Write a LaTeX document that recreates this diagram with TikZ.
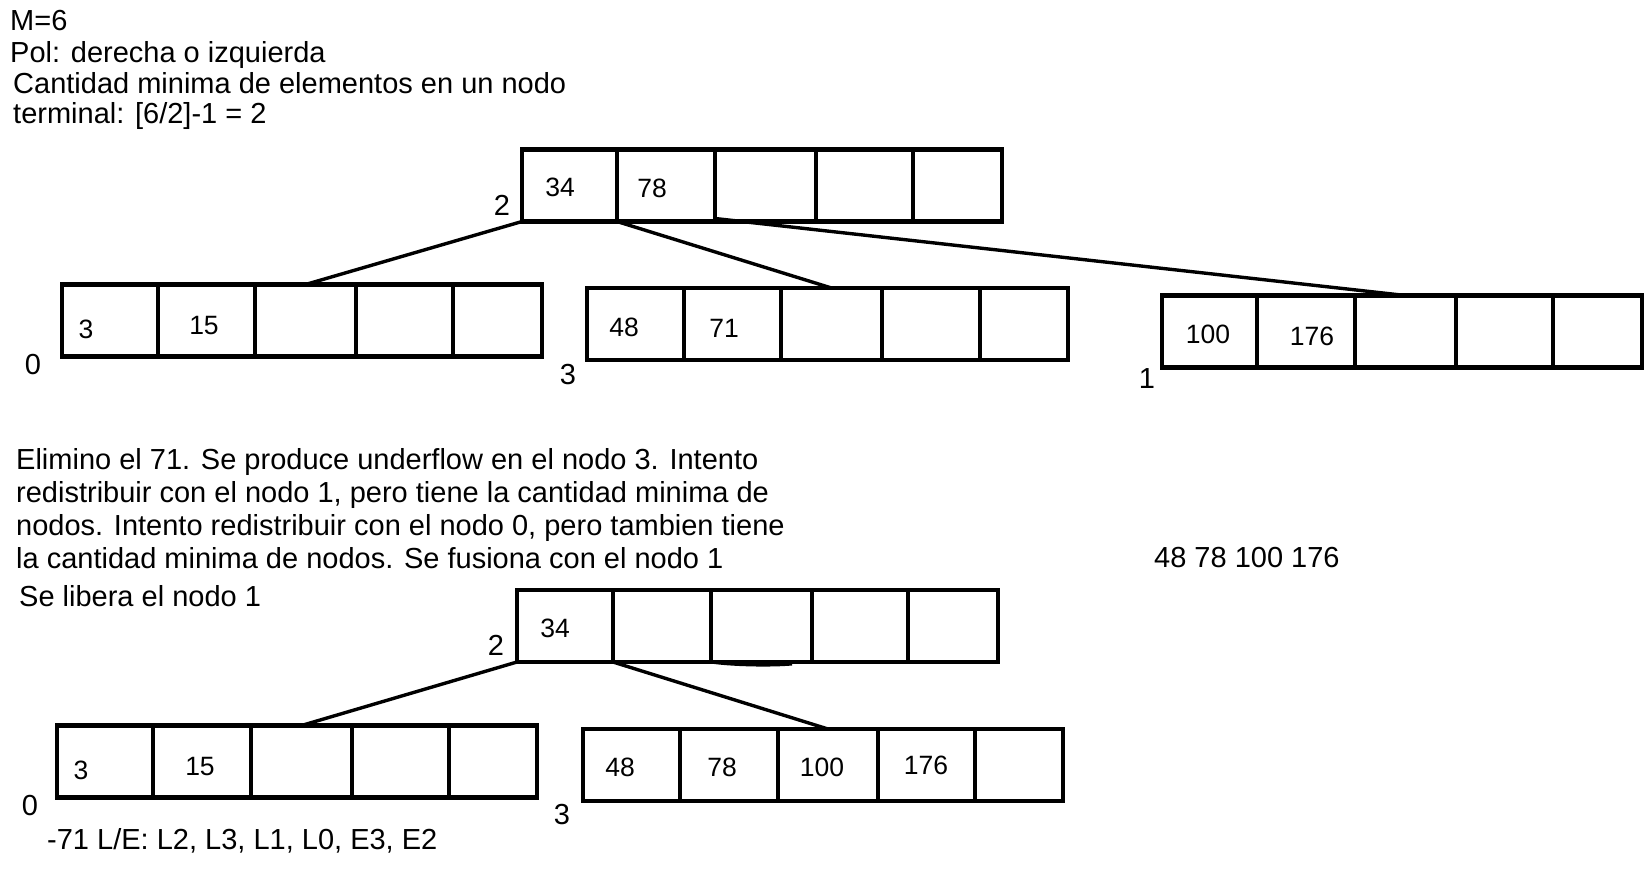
\documentclass[tikz,border=0pt]{standalone}
\usepackage{fontspec}
\setmainfont{Liberation Sans}

\begin{document}
\begin{tikzpicture}[x=1pt, y=-1pt,
  cell/.style={draw, line width=4.6pt, minimum height=72pt, inner sep=0pt, outer sep=0pt},
  val/.style={inner sep=0pt, font=\fontsize{26.5}{30}\selectfont},
  txt/.style={inner sep=0pt, anchor=west, align=left, font=\fontsize{29}{33}\selectfont},
  edge/.style={line width=3.4pt}]
  \useasboundingbox (0,0) rectangle (1648,876);

  % enunciado
  \node[txt] (m) at (10,21) {M=6};
  \node[txt] (pol) at (10,55) {Pol: derecha o izquierda};
  \node[txt] (min1) at (13,83) {Cantidad minima de elementos en un nodo};
  \node[txt] (min2) at (13,116) {terminal: [6/2]-1 = 2};

  % arbol inicial: raiz (nodo 2)
  \node[cell, minimum width=95pt] (A1) at (569.5,185.5) {};
  \node[cell, minimum width=98pt] (A2) at (666,185.5) {};
  \node[cell, minimum width=101pt] (A3) at (765.5,185.5) {};
  \node[cell, minimum width=97pt] (A4) at (864.5,185.5) {};
  \node[cell, minimum width=89pt] (A5) at (957.5,185.5) {};
  \node[val] (vA1) at (560,187) {34};
  \node[val] (vA2) at (652,188) {78};
  \node[txt, anchor=center] (lA) at (502,205) {2};

  % nodo 0
  \node[cell, minimum width=96pt] (B1) at (110,320.5) {};
  \node[cell, minimum width=97pt] (B2) at (206.5,320.5) {};
  \node[cell, minimum width=101pt] (B3) at (305.5,320.5) {};
  \node[cell, minimum width=97pt] (B4) at (404.5,320.5) {};
  \node[cell, minimum width=89pt] (B5) at (497.5,320.5) {};
  \node[val] (vB1) at (86,329) {3};
  \node[val] (vB2) at (204,326) {15};
  \node[txt, anchor=center] (lB) at (33,365) {0};

  % nodo 3
  \node[cell, minimum width=97pt] (C1) at (635.5,324) {};
  \node[cell, minimum width=97pt] (C2) at (732.5,324) {};
  \node[cell, minimum width=101pt] (C3) at (831.5,324) {};
  \node[cell, minimum width=98pt] (C4) at (931,324) {};
  \node[cell, minimum width=88pt] (C5) at (1024,324) {};
  \node[val] (vC1) at (624,327) {48};
  \node[val] (vC2) at (724,328) {71};
  \node[txt, anchor=center] (lC) at (568,375) {3};

  % nodo 1
  \node[cell, minimum width=95pt] (D1) at (1209.5,331.5) {};
  \node[cell, minimum width=98pt] (D2) at (1306,331.5) {};
  \node[cell, minimum width=101pt] (D3) at (1405.5,331.5) {};
  \node[cell, minimum width=97pt] (D4) at (1504.5,331.5) {};
  \node[cell, minimum width=89pt] (D5) at (1597.5,331.5) {};
  \node[val] (vD1) at (1208,334) {100};
  \node[val] (vD2) at (1312,336) {176};
  \node[txt, anchor=center] (lD) at (1147,379) {1};

  \draw[edge] (A1.south west) -- (B3.north);
  \draw[edge] (A2.south west) -- (C3.north);
  \draw[edge] ([yshift=3pt]A3.south west) -- (D3.north);

  % explicacion
  \node[txt, anchor=north west] (expl) at (16,448)
    {Elimino el 71. Se produce underflow en el nodo 3. Intento\\
     redistribuir con el nodo 1, pero tiene la cantidad minima de\\
     nodos. Intento redistribuir con el nodo 0, pero tambien tiene\\
     la cantidad minima de nodos. Se fusiona con el nodo 1};
  \node[txt] (libera) at (19,596) {Se libera el nodo 1};
  \node[val, anchor=west, font=\fontsize{29}{33}\selectfont] (claves) at (1154,558) {48 78 100 176};

  % arbol final: raiz (nodo 2)
  \node[cell, minimum width=96pt] (E1) at (565,626) {};
  \node[cell, minimum width=98pt] (E2) at (662,626) {};
  \node[cell, minimum width=101pt] (E3) at (761.5,626) {};
  \node[cell, minimum width=96pt] (E4) at (860,626) {};
  \node[cell, minimum width=90pt] (E5) at (953,626) {};
  \node[val] (vE1) at (555,628) {34};
  \node[txt, anchor=center] (lE) at (496,645) {2};
  \draw[line width=3pt] (711,662) .. controls (730,665) and (770,666) .. (792,664);

  % nodo 0
  \node[cell, minimum width=96pt] (F1) at (105,761.5) {};
  \node[cell, minimum width=98pt] (F2) at (202,761.5) {};
  \node[cell, minimum width=101pt] (F3) at (301.5,761.5) {};
  \node[cell, minimum width=97pt] (F4) at (400.5,761.5) {};
  \node[cell, minimum width=88pt] (F5) at (493,761.5) {};
  \node[val] (vF1) at (81,770) {3};
  \node[val] (vF2) at (200,766) {15};
  \node[txt, anchor=center] (lF) at (30,806) {0};

  % nodo 3
  \node[cell, minimum width=97pt] (G1) at (631.5,765) {};
  \node[cell, minimum width=98pt] (G2) at (729,765) {};
  \node[cell, minimum width=100pt] (G3) at (828,765) {};
  \node[cell, minimum width=97pt] (G4) at (926.5,765) {};
  \node[cell, minimum width=88pt] (G5) at (1019,765) {};
  \node[val] (vG1) at (620,767) {48};
  \node[val] (vG2) at (722,767) {78};
  \node[val] (vG3) at (822,767) {100};
  \node[val] (vG4) at (926,765) {176};
  \node[txt, anchor=center] (lG) at (562,815) {3};

  \draw[edge] (E1.south west) -- (F3.north);
  \draw[edge] (E2.south west) -- (G3.north);

  \node[txt] (io) at (47,841) {-71 L/E: L2, L3, L1, L0, E3, E2};
\end{tikzpicture}
\end{document}
